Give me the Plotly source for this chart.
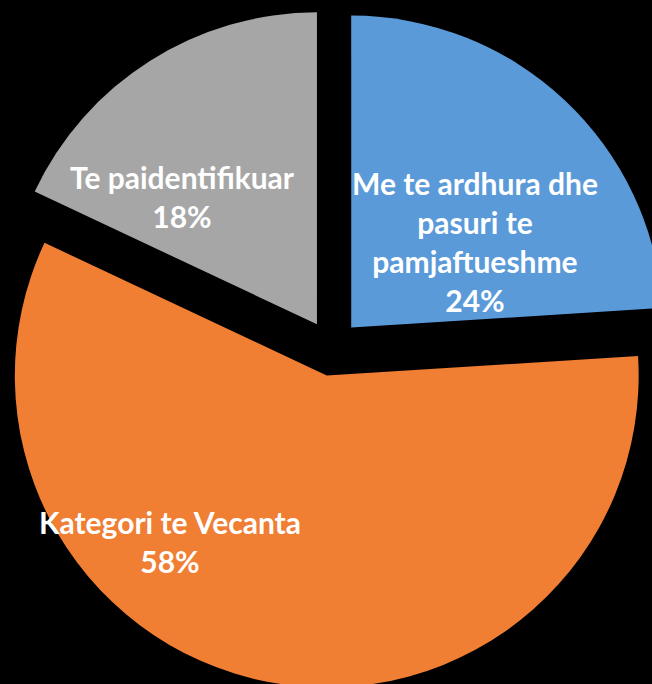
import plotly.graph_objects as go

labels = ["Me te ardhura dhe pasuri te pamjaftueshme", "Kategori te Vecanta", "Te paidentifikuar"]
label_lines = [["Me te ardhura dhe", "pasuri te", "pamjaftueshme"], ["Kategori te Vecanta"], ["Te paidentifikuar"]]
values = [24, 58, 18]
colors = ["#5a9ad9", "#f07e33", "#a6a6a6"]

W, H = 680, 680
OX, OY = -8, 8  # page offset of the figure
# label centre positions in page pixels (layout)
label_pos = [(475, 241), (170, 541), (182, 196)]

fig = go.Figure(go.Pie(
    labels=labels,
    values=values,
    sort=False,
    direction="clockwise",
    rotation=0,
    pull=[0.09, 0.09, 0.09],
    marker=dict(colors=colors, line=dict(width=0)),
    textinfo="none",
    hoverinfo="label+percent",
    showlegend=False,
))

total = sum(values)
annotations = []
for lines, v, (px, py) in zip(label_lines, values, label_pos):
    txt = "<br>".join(lines + [f"{round(100 * v / total)}%"])
    annotations.append(dict(
        x=(px - OX) / W, y=1 - (py - OY) / H, xref="paper", yref="paper",
        text=txt, showarrow=False, xanchor="center", yanchor="middle",
        font=dict(family="Lato", size=30, color="white", weight="bold"),
    ))

fig.update_layout(
    width=W, height=H,
    margin=dict(l=0, r=0, t=0, b=0),
    paper_bgcolor="black", plot_bgcolor="black",
    annotations=annotations,
)
post = ("document.body.style.margin='%dpx 0 0 %dpx';"
        "document.body.style.background='black';"
        "document.documentElement.style.background='black';"
        "document.documentElement.style.overflow='hidden';"
        "document.body.style.overflow='hidden';") % (OY, OX)
fig.write_html("out.html", post_script=post)
